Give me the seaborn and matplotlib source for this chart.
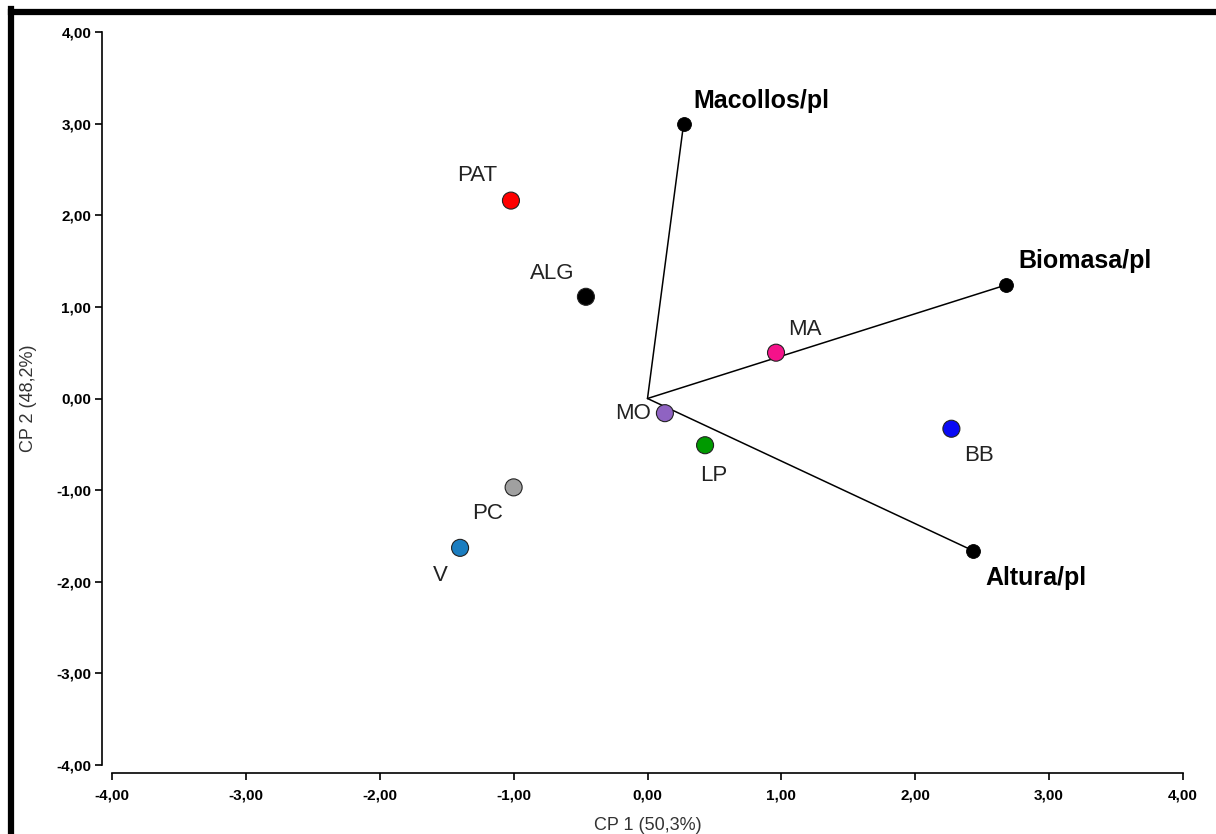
import matplotlib
matplotlib.use("Agg")
import matplotlib.pyplot as plt
import seaborn as sns
import pandas as pd
from matplotlib.lines import Line2D

# observaciones (CP1, CP2)
obs_names = ["PAT", "ALG", "MA", "MO", "LP", "BB", "PC", "V"]
obs_cp1 = [-1.02, -0.46, 0.96, 0.13, 0.43, 2.27, -1.00, -1.40]
obs_cp2 = [2.16, 1.11, 0.50, -0.16, -0.51, -0.33, -0.97, -1.63]
obs_colors = ["#FF0000", "#000000", "#F5128A", "#8F63C2",
              "#009A00", "#0A0AF5", "#A0A0A0", "#1A7DC0"]
# posición de la etiqueta (puntos)
obs_offsets = [(-24, 18), (-24, 17), (21, 17), (-23, 0),
               (6, -22), (20, -19), (-19, -19), (-14, -20)]

# variables
var_names = ["Macollos/pl", "Biomasa/pl", "Altura/pl"]
var_cp1 = [0.27, 2.68, 2.43]
var_cp2 = [3.00, 1.24, -1.66]
var_offsets = [(7, 16), (9, 17), (9, -20)]

ticks = [-4, -3, -2, -1, 0, 1, 2, 3, 4]
tick_labels = [f"{t:.2f}".replace(".", ",") for t in ticks]

sns.set_style("ticks")
plt.rcParams["font.family"] = ["Liberation Sans", "DejaVu Sans"]

fig = plt.figure(figsize=(12.16, 8.34), dpi=100)
ax = fig.add_axes([112 / 1216, 1 - 765 / 834, 1071 / 1216, 733 / 834])

df_obs = pd.DataFrame({"CP1": obs_cp1, "CP2": obs_cp2, "obs": obs_names})
df_var = pd.DataFrame({"CP1": var_cp1, "CP2": var_cp2, "var": var_names})

# vectores desde el origen
for x, y in zip(var_cp1, var_cp2):
    ax.plot([0, x], [0, y], color="black", lw=1.1, zorder=1)

sns.scatterplot(data=df_var, x="CP1", y="CP2", color="black", s=100,
                edgecolor="black", linewidth=0.6, ax=ax, zorder=3, legend=False)
sns.scatterplot(data=df_obs, x="CP1", y="CP2", hue="obs", palette=obs_colors,
                s=150, edgecolor="#222222", linewidth=0.8, ax=ax, zorder=3,
                legend=False)

for name, x, y, off in zip(obs_names, obs_cp1, obs_cp2, obs_offsets):
    ax.annotate(name, (x, y), xytext=off, textcoords="offset points",
                ha="center", va="center", fontsize=16, color="#222222")

for name, x, y, off in zip(var_names, var_cp1, var_cp2, var_offsets):
    ax.annotate(name, (x, y), xytext=off, textcoords="offset points",
                ha="left", va="center", fontsize=18, fontweight="bold",
                color="black")

ax.set_xlim(-4, 4)
ax.set_ylim(-4, 4)
ax.set_xticks(ticks)
ax.set_yticks(ticks)

sns.despine(ax=ax, offset={"left": 7, "bottom": 6}, trim=True)
for s in ["left", "bottom"]:
    ax.spines[s].set_linewidth(1.2)
    ax.spines[s].set_color("black")

# etiquetas de ticks después del despine (trim recrea los ticks)
ax.set_xticks(ticks, labels=tick_labels)
ax.set_yticks(ticks, labels=tick_labels)
ax.tick_params(axis="both", length=5, width=1.2, colors="black", labelsize=11)
ax.tick_params(axis="x", pad=6)
ax.tick_params(axis="y", pad=3)
fig.canvas.draw()
plt.setp(ax.get_xticklabels() + ax.get_yticklabels(), fontweight="bold")

ax.set_xlabel("CP 1 (50,3%)", fontsize=13, color="#333333", labelpad=10)
ax.set_ylabel("CP 2 (48,2%)", fontsize=13, color="#333333", labelpad=14)

# marco grueso (arriba e izquierda)
fig.add_artist(Line2D([11 / 1216, 11 / 1216], [0, 1 - 9 / 834],
                      transform=fig.transFigure, color="black", lw=4.5,
                      solid_capstyle="projecting"))
fig.add_artist(Line2D([11 / 1216, 1], [1 - 12 / 834, 1 - 12 / 834],
                      transform=fig.transFigure, color="black", lw=4.5,
                      solid_capstyle="projecting"))

fig.savefig("out.png", dpi=100)
